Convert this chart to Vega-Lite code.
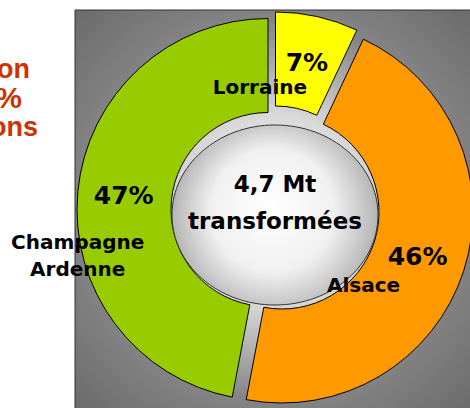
{
  "$schema": "https://vega.github.io/schema/vega-lite/v6.json",
  "width": 398,
  "height": 400,
  "autosize": {"type": "none"},
  "padding": {"left": 75, "top": 10, "right": 0, "bottom": 0},
  "background": "#ffffff",
  "config": {
    "view": {"stroke": null}
  },
  "data": {
    "values": [
      {"region": "Lorraine", "share": 0.07},
      {"region": "Alsace", "share": 0.46},
      {"region": "Champagne Ardenne", "share": 0.47}
    ]
  },
  "transform": [
    {"stack": "share", "groupby": [], "sort": [{"field": "share", "order": "ascending"}], "as": ["p0", "p1"]},
    {"calculate": "(datum.p0 + datum.p1) / 2", "as": "mid"}
  ],
  "layer": [
    {
      "data": {"values": [{"item": "panel"}]},
      "mark": {
        "type": "rect",
        "fill": {
          "gradient": "radial",
          "x1": 0.5, "y1": 0.5, "r1": 0,
          "x2": 0.5, "y2": 0.5, "r2": 0.71,
          "stops": [
            {"offset": 0, "color": "#ffffff"},
            {"offset": 0.34, "color": "#d8d8d8"},
            {"offset": 0.67, "color": "#848484"},
            {"offset": 1, "color": "#6a6a6a"}
          ]
        },
        "stroke": "#333333",
        "strokeWidth": 1
      },
      "encoding": {}
    },
    {
      "transform": [{"filter": "datum.region === 'Lorraine'"}],
      "mark": {"type": "arc", "radius": 191, "radius2": 97, "stroke": "#000000", "strokeWidth": 1, "xOffset": 1.5, "yOffset": -7},
      "encoding": {
        "theta": {"field": "p0", "type": "quantitative", "scale": {"domain": [0, 1]}},
        "theta2": {"field": "p1"},
        "color": {"field": "region", "type": "nominal", "scale": {"domain": ["Lorraine", "Alsace", "Champagne Ardenne"], "range": ["#FFFF00", "#FF9900", "#99CC00"]}, "legend": null}
      }
    },
    {
      "transform": [{"filter": "datum.region === 'Alsace'"}],
      "mark": {"type": "arc", "radius": 191, "radius2": 97, "stroke": "#000000", "strokeWidth": 1, "xOffset": 8, "yOffset": 2},
      "encoding": {
        "theta": {"field": "p0", "type": "quantitative", "scale": {"domain": [0, 1]}},
        "theta2": {"field": "p1"},
        "color": {"field": "region", "type": "nominal", "legend": null}
      }
    },
    {
      "transform": [{"filter": "datum.region === 'Champagne Ardenne'"}],
      "mark": {"type": "arc", "radius": 191, "radius2": 97, "stroke": "#000000", "strokeWidth": 1, "xOffset": -6, "yOffset": -0.5},
      "encoding": {
        "theta": {"field": "p0", "type": "quantitative", "scale": {"domain": [0, 1]}},
        "theta2": {"field": "p1"},
        "color": {"field": "region", "type": "nominal", "legend": null}
      }
    },
    {
      "data": {"values": [{"item": "centre"}]},
      "mark": {
        "type": "point",
        "shape": "M -1 0 A 1 0.874 0 1 1 1 0 A 1 0.874 0 1 1 -1 0 Z",
        "size": 42436,
        "filled": true,
        "opacity": 1,
        "fill": {
          "gradient": "radial",
          "x1": 0.47, "y1": 0.45, "r1": 0,
          "x2": 0.5, "y2": 0.5, "r2": 0.5,
          "stops": [
            {"offset": 0, "color": "#ffffff"},
            {"offset": 0.6, "color": "#f0f0f0"},
            {"offset": 1, "color": "#b4b4b4"}
          ]
        },
        "stroke": "#333333",
        "strokeWidth": 1,
        "xOffset": 1,
        "yOffset": 5
      },
      "encoding": {}
    },
    {
      "mark": {"type": "text", "radius": 151, "font": "DejaVu Sans", "fontWeight": "bold", "fontSize": 25, "align": "center", "baseline": "middle", "color": "#000000"},
      "encoding": {
        "theta": {"field": "mid", "type": "quantitative", "stack": null, "scale": {"domain": [0, 1]}},
        "text": {"field": "share", "type": "quantitative", "format": ".0%"}
      }
    },
    {
      "transform": [{"filter": "datum.region === 'Lorraine'"}],
      "mark": {"type": "text", "radius": 151, "dx": -47, "dy": 25, "font": "DejaVu Sans", "fontWeight": "bold", "fontSize": 20, "align": "center", "baseline": "middle", "color": "#000000"},
      "encoding": {
        "theta": {"field": "mid", "type": "quantitative", "stack": null, "scale": {"domain": [0, 1]}},
        "text": {"field": "region"}
      }
    },
    {
      "transform": [{"filter": "datum.region === 'Alsace'"}],
      "mark": {"type": "text", "radius": 151, "dx": -54, "dy": 29, "font": "DejaVu Sans", "fontWeight": "bold", "fontSize": 20, "align": "center", "baseline": "middle", "color": "#000000"},
      "encoding": {
        "theta": {"field": "mid", "type": "quantitative", "stack": null, "scale": {"domain": [0, 1]}},
        "text": {"field": "region"}
      }
    },
    {
      "transform": [{"filter": "datum.region === 'Champagne Ardenne'"}],
      "mark": {"type": "text", "radius": 151, "dx": -46, "dy": 47, "lineBreak": " ", "lineHeight": 27, "font": "DejaVu Sans", "fontWeight": "bold", "fontSize": 20, "align": "center", "baseline": "middle", "color": "#000000"},
      "encoding": {
        "theta": {"field": "mid", "type": "quantitative", "stack": null, "scale": {"domain": [0, 1]}},
        "text": {"field": "region"}
      }
    },
    {
      "data": {"values": [{"item": "centre"}]},
      "mark": {"type": "text", "text": ["4,7 Mt", "transformées"], "lineHeight": 37, "dx": 1, "dy": -25, "font": "DejaVu Sans", "fontWeight": "bold", "fontSize": 23, "align": "center", "baseline": "middle", "color": "#000000"},
      "encoding": {}
    },
    {
      "data": {"values": [{"item": "note"}]},
      "mark": {"type": "text", "text": "on", "dx": -244, "dy": -132, "font": "Liberation Sans", "fontWeight": "bold", "fontSize": 27, "align": "right", "baseline": "alphabetic", "color": "#CC3300"},
      "encoding": {}
    },
    {
      "data": {"values": [{"item": "note"}]},
      "mark": {"type": "text", "text": "%", "dx": -252, "dy": -102, "font": "Liberation Sans", "fontWeight": "bold", "fontSize": 30, "align": "right", "baseline": "alphabetic", "color": "#CC3300"},
      "encoding": {}
    },
    {
      "data": {"values": [{"item": "note"}]},
      "mark": {"type": "text", "text": "ons", "dx": -236, "dy": -74, "font": "Liberation Sans", "fontWeight": "bold", "fontSize": 27, "align": "right", "baseline": "alphabetic", "color": "#CC3300"},
      "encoding": {}
    }
  ]
}
